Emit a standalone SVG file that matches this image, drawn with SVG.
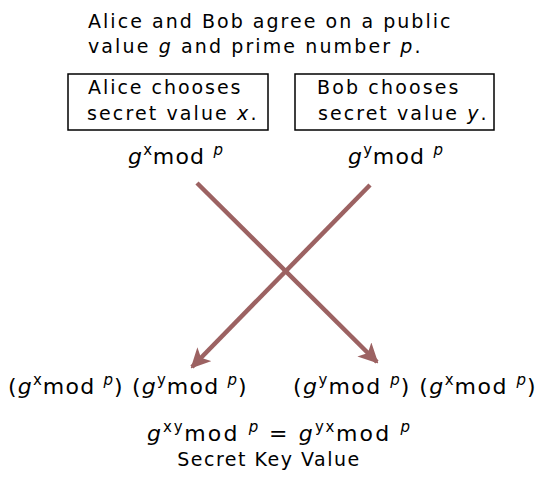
<svg xmlns="http://www.w3.org/2000/svg" width="540" height="494" viewBox="0 0 540 494">
<defs>
<style>
text{font-family:"DejaVu Sans",Verdana,sans-serif;font-size:19px;fill:#000;letter-spacing:1.5px}
.m{font-size:22px;letter-spacing:0.5px}
.i{font-style:italic}
.s{font-size:15px;letter-spacing:0}
.box{fill:#fff;stroke:#000;stroke-width:1.5}
.arr{stroke:#9C6262;stroke-width:4.5;fill:none}
</style>
<marker id="ah" viewBox="0 0 10 10" refX="9" refY="5" markerWidth="4.4" markerHeight="4.4" orient="auto" markerUnits="strokeWidth">
<path d="M0,0 L10,5 L0,10 L2.5,5 z" fill="#9C6262"/>
</marker>
</defs>
<rect width="540" height="494" fill="#fff"/>
<g id="intro">
<text x="88" y="28" textLength="364" lengthAdjust="spacing">Alice and Bob agree on a public</text>
<text x="88" y="53" textLength="334" lengthAdjust="spacing">value <tspan class="i">g</tspan> and prime number <tspan class="i">p</tspan>.</text>
</g>
<g id="alice">
<rect class="box" x="68" y="74" width="200" height="56"/>
<text x="88" y="94" textLength="154" lengthAdjust="spacing">Alice chooses</text>
<text x="87" y="120" textLength="171" lengthAdjust="spacing">secret value <tspan class="i">x</tspan>.</text>
</g>
<g id="bob">
<rect class="box" x="295" y="74" width="199" height="56"/>
<text x="317" y="94" textLength="143" lengthAdjust="spacing">Bob chooses</text>
<text x="318" y="120" textLength="170" lengthAdjust="spacing">secret value <tspan class="i">y</tspan>.</text>
</g>
<g id="alice-public">
<text class="m" x="128" y="164" textLength="95" lengthAdjust="spacing"><tspan class="i">g</tspan><tspan class="s" dy="-9">x</tspan><tspan dy="9">mod </tspan><tspan class="i s" dy="-9">p</tspan></text>
</g>
<g id="bob-public">
<text class="m" x="348" y="164" textLength="95" lengthAdjust="spacing"><tspan class="i">g</tspan><tspan class="s" dy="-9">y</tspan><tspan dy="9">mod </tspan><tspan class="i s" dy="-9">p</tspan></text>
</g>
<g id="connectors">
<line class="arr" x1="197" y1="183" x2="377" y2="362" marker-end="url(#ah)"/>
<line class="arr" x1="370" y1="185" x2="192" y2="367" marker-end="url(#ah)"/>
</g>
<g id="alice-result">
<text class="m" x="8" y="394" textLength="239" lengthAdjust="spacing">(<tspan class="i">g</tspan><tspan class="s" dy="-9">x</tspan><tspan dy="9">mod </tspan><tspan class="i s" dy="-9">p</tspan><tspan dy="9">) (</tspan><tspan class="i">g</tspan><tspan class="s" dy="-9">y</tspan><tspan dy="9">mod </tspan><tspan class="i s" dy="-9">p</tspan><tspan dy="9">)</tspan></text>
</g>
<g id="bob-result">
<text class="m" x="293" y="394" textLength="243" lengthAdjust="spacing">(<tspan class="i">g</tspan><tspan class="s" dy="-9">y</tspan><tspan dy="9">mod </tspan><tspan class="i s" dy="-9">p</tspan><tspan dy="9">) (</tspan><tspan class="i">g</tspan><tspan class="s" dy="-9">x</tspan><tspan dy="9">mod </tspan><tspan class="i s" dy="-9">p</tspan><tspan dy="9">)</tspan></text>
</g>
<g id="secret-key">
<text class="m" x="147" y="441" textLength="263" lengthAdjust="spacing"><tspan class="i">g</tspan><tspan class="s" dy="-9">xy</tspan><tspan dy="9">mod </tspan><tspan class="i s" dy="-9">p</tspan><tspan dy="9"> =  </tspan><tspan class="i">g</tspan><tspan class="s" dy="-9">yx</tspan><tspan dy="9">mod </tspan><tspan class="i s" dy="-9">p</tspan></text>
<text x="269" y="466" text-anchor="middle">Secret Key Value</text>
</g>
</svg>
